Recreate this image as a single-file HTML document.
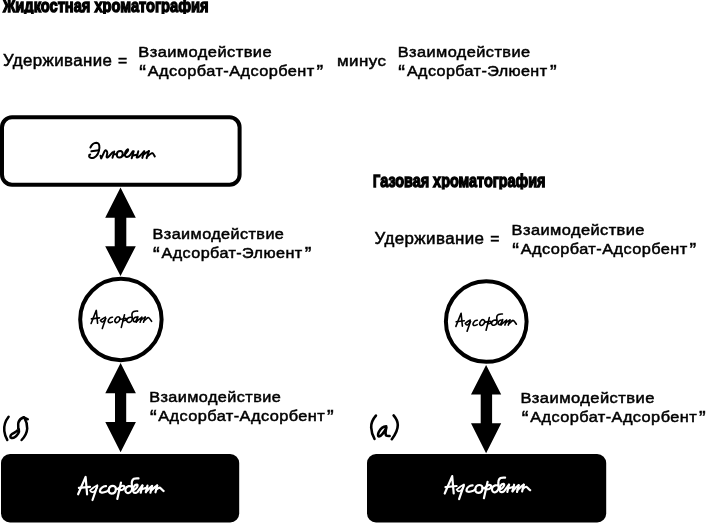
<!DOCTYPE html>
<html><head><meta charset="utf-8">
<style>
html,body{margin:0;padding:0;background:#fff;width:706px;height:523px;overflow:hidden}
svg{display:block;filter:grayscale(1)}
.t{font-family:"Liberation Sans",sans-serif;font-weight:normal;font-size:15.5px;fill:#000;stroke:#000;stroke-width:0.5px;letter-spacing:0.4px}
.h{font-family:"Liberation Sans",sans-serif;font-weight:bold;font-size:18.2px;fill:#000;stroke:#000;stroke-width:1.35px}
.s{font-family:"Liberation Serif",serif;font-style:italic;font-size:18px;fill:#000}
.sw{font-family:"Liberation Serif",serif;font-style:italic;font-size:19px;fill:#fff}
.q{font-size:20px !important}
</style></head>
<body>
<svg width="706" height="523" viewBox="0 0 706 523">
<defs><clipPath id="c1"><rect x="0" y="0" width="300" height="14"/></clipPath><clipPath id="c2"><rect x="360" y="170" width="300" height="19.6"/></clipPath>
<g id="eluent" fill="none" stroke="#000" stroke-width="2" stroke-linecap="round" stroke-linejoin="round">
<path d="M90.4,147.5 C91.5,145 93.8,142.8 96.3,142.7 C98.5,142.7 99.5,144.5 99.4,147.8 C99.2,151.5 97.5,156 93.7,157.8 C91.5,158.6 89.5,157.8 89.1,156.2 C89,155.3 89.5,154.7 90.2,154.6"/>
<path d="M91.4,151.3 L99,150.2"/>
<path d="M100.5,155.7 L101.2,158.4 C102.5,156 104,152 105,150.7 C105.8,149.9 107.2,151 107.3,153 L106.6,156.8 C106.8,158 108,157.5 108.8,156.5 L112.5,152.3"/>
<path d="M114.2,151.5 L112.5,157.7"/>
<path d="M114.4,154.3 L116.8,154.2"/>
<path d="M120.3,151 C122,151 122.9,152.5 122.7,154.2 C122.5,156.2 121,157.7 119.3,157.6 C117.5,157.5 116.6,156 116.8,154.3 C117,152.4 118.5,151 120.3,151"/>
<path d="M122.6,155.9 C124,155.2 126.5,153.2 127.8,151 C128.6,149.6 128,149 127.3,149.6 C125.8,150.8 124.8,153.5 125.1,155.5 C125.4,157.3 127.3,157.3 129,156.2 C130.5,155 131.8,153 132.8,151.3"/>
<path d="M133.7,151.2 L131.7,158.2"/>
<path d="M132.6,155.6 L137.2,154.7"/>
<path d="M138.3,151.2 L136.7,157.2 C137,157.8 137.9,157.6 138.6,157 L140.5,155.2 C141.5,154.2 142.8,152.8 143.8,151.5"/>
<path d="M144.3,151.3 L142.3,157.9"/>
<path d="M143.3,154.8 C144.8,153.5 146.8,152 148.9,151.1"/>
<path d="M148.9,151.1 L146.6,158.1"/>
<path d="M147.6,156 C148.6,155.2 150.5,153.5 152,153.1 C153,153 154,155 154.8,156.4"/>
</g>
<g id="adsorbat" fill="none" stroke="#000" stroke-width="1.6" stroke-linecap="round" stroke-linejoin="round">
<path d="M91.1,323.5 L96.3,310.4 L97.6,323.3"/>
<path d="M91.4,318.9 L99.5,317.9"/>
<path stroke-width="1.5" d="M105.5,317.1 C103.8,318 101.8,319.3 100.4,320.4 C101,321.6 102,322.3 103,321.9 C104.2,321.2 105,319.8 105.7,318.5"/>
<path d="M105.7,318.5 L102.3,328.4"/>
<path d="M112.5,317.3 C111,317.2 109.2,318.6 108.4,320.2 C107.7,321.7 108.6,322.8 110.2,322.6 C111,322.5 111.8,322.2 112.4,321.8"/>
<ellipse cx="117.4" cy="319.7" rx="2.1" ry="3.1" transform="rotate(35 117.4 319.7)"/>
<path d="M124.5,314.7 L121.3,327.4"/>
<path d="M120.1,319.2 C121,319 122,319 122.8,319 C124,318.2 126,318 126.5,319.2 C126.8,320.2 125,320.8 123,320.7"/>
<path d="M132.3,317.8 C130.5,316.5 127.5,317.5 126.8,319.8 C126.3,321.8 128,322.8 129.8,322.2 C131.6,321.5 132.6,319.5 132.2,317 C131.6,314.5 132,312.3 133.8,311.5 C135,311 136.5,311 137.6,311.1"/>
<path d="M137.2,317.3 C135.5,316.6 133.5,318 133.2,320 C133,321.8 134.8,322.2 136,321 L137.9,316.7 L136.3,322.2"/>
<path d="M137.2,321 C138.5,320 140,318.5 141.8,317.3"/>
<path d="M141.8,317.3 L140.1,322.2"/>
<path d="M140.9,320 C142.2,319 143.8,317.8 145.2,317.1"/>
<path d="M145.2,317.1 L143.5,322.2"/>
<path d="M144.6,320.5 C145.5,319.6 147,317.8 148.2,317.5 C149.5,317.6 150.5,320 151.6,321.3"/>
</g>
<g id="adsorbent" fill="none" stroke="#fff" stroke-width="2.2" stroke-linecap="round" stroke-linejoin="round">
<path d="M78.1,494.3 L85.6,476.9 L87.1,494.3"/>
<path d="M78.9,487.9 L90,486.8"/>
<path stroke-width="1.7" d="M97.3,485.2 C95,486.3 92,488.5 90,490.4 C90.8,491.8 92.2,492.5 93.5,491.9 C95,491.2 96.2,489.5 97,487.5"/>
<path d="M97.3,486 L92.5,500"/>
<path d="M106,486.2 C103,486 100.2,488.5 99.9,490.8 C99.8,492.8 102.5,493.2 106.6,491.6 C107.5,491.2 108.2,490.6 108.8,490"/>
<path d="M113,485.8 C115.2,485.8 116.2,487.8 115.9,489.6 C115.6,491.8 113.8,493.6 111.6,493.6 C109.5,493.5 108.4,491.8 108.7,489.8 C109,487.6 110.8,485.8 113,485.8"/>
<path d="M121,482.6 L117.3,499"/>
<path d="M115.8,489 C116.8,489 117.8,489 118.6,488.5 C119.8,486.5 122.5,485.2 124,486 C125,486.8 124.4,489 122.5,489.8 C121.3,490.2 119.8,490.2 118.8,489.8"/>
<path d="M132.4,487.5 C130.5,485 126.5,486 125.5,489 C124.8,491.5 126.5,493.6 128.8,493 C131,492.3 132.4,489.5 132,486.5 C131.4,483 131.8,480 133.9,478.8 C135.2,478.2 137,478.3 138.5,478.4"/>
<path d="M132.8,490.5 C134.5,490 137.2,488 137.6,485.8 C137.8,484.5 136.6,484.2 135.4,485 C133.6,486.3 132.7,489.5 133.2,491.5 C133.8,493.5 136,493.2 137.5,492 L142.4,485.5"/>
<path d="M142.4,485.5 L140.7,492.7"/>
<path d="M141.5,489.3 L147,487.6"/>
<path d="M147.5,485.5 L145.8,492.3"/>
<path d="M146,491.8 C147.5,490 150,487.5 152.1,486"/>
<path d="M152.1,486 L150.4,492.7"/>
<path d="M151,490.5 C152.8,489 155,487 157.2,485.5"/>
<path d="M157.2,485.5 L155.5,492.3"/>
<path d="M156.3,489.5 C157.5,488.5 158.8,487.4 159.8,487.6 C161,488 162.2,490.3 163.6,491"/>
</g>
</defs>
<!-- Titles -->
<text class="h" clip-path="url(#c1)" x="3" y="11.6" textLength="205.5" lengthAdjust="spacingAndGlyphs"><tspan font-size="17">Ж</tspan>идкостная хроматография</text>
<text class="h" clip-path="url(#c2)" x="373" y="187" textLength="172.5" lengthAdjust="spacingAndGlyphs"><tspan font-size="16">Г</tspan>азовая хроматография</text>

<!-- Top equation -->
<text class="t" style="font-size:16px" x="3" y="66.2" textLength="109.4" lengthAdjust="spacingAndGlyphs">Удерживание</text>
<text class="t" x="118" y="66.1" textLength="9.6" lengthAdjust="spacingAndGlyphs">=</text>
<text class="t" x="138.3" y="57.4" textLength="133.7" lengthAdjust="spacingAndGlyphs">Взаимодействие</text>
<g><text class="t q" x="139.2" y="78.9">“</text><text class="t" x="147.8" y="75.9" textLength="166.9" lengthAdjust="spacingAndGlyphs">Адсорбат-Адсорбент</text><text class="t q" x="323.5" y="78.9" text-anchor="end">”</text></g>
<text class="t" x="337" y="66" textLength="49.3" lengthAdjust="spacingAndGlyphs">минус</text>
<text class="t" x="397.8" y="57.4" textLength="132.7" lengthAdjust="spacingAndGlyphs">Взаимодействие</text>
<g><text class="t q" x="398.3" y="78.9">“</text><text class="t" x="406.9" y="75.9" textLength="140.6" lengthAdjust="spacingAndGlyphs">Адсорбат-Элюент</text><text class="t q" x="557.0" y="78.9" text-anchor="end">”</text></g>

<!-- Eluent box -->
<rect x="2" y="117.3" width="237.6" height="67.4" rx="10" ry="10" fill="#fff" stroke="#000" stroke-width="4"/>
<use href="#eluent"/>

<!-- Arrow 1 -->
<polygon fill="#000" points="120.5,187.6 135.8,217.7 126.3,217.7 126.3,246.2 135.8,246.2 120.5,275.9 105.2,246.2 114.7,246.2 114.7,217.7 105.2,217.7"/>
<text class="t" x="152.6" y="238.5" textLength="131.7" lengthAdjust="spacingAndGlyphs">Взаимодействие</text>
<g><text class="t q" x="153.1" y="260.8">“</text><text class="t" x="161.5" y="257.8" textLength="141.1" lengthAdjust="spacingAndGlyphs">Адсорбат-Элюент</text><text class="t q" x="311.8" y="260.8" text-anchor="end">”</text></g>

<!-- Circle 1 -->
<circle cx="120.9" cy="319.5" r="40.7" fill="#fff" stroke="#000" stroke-width="4"/>
<use href="#adsorbat"/>

<!-- Arrow 2 -->
<polygon fill="#000" points="120.6,363 135.9,393.3 126.2,393.3 126.2,422 135.9,422 120.6,452.3 105.3,422 115,422 115,393.3 105.3,393.3"/>
<text class="t" x="149.2" y="401.8" textLength="132.0" lengthAdjust="spacingAndGlyphs">Взаимодействие</text>
<g><text class="t q" x="150.0" y="423.5">“</text><text class="t" x="158.2" y="420.5" textLength="167.0" lengthAdjust="spacingAndGlyphs">Адсорбат-Адсорбент</text><text class="t q" x="334.0" y="423.5" text-anchor="end">”</text></g>

<!-- (б) -->
<g fill="none" stroke="#000" stroke-width="2.5" stroke-linecap="round" stroke-linejoin="round">
<path d="M8.6,416.8 C5,421.5 3.8,427 4.3,431 C4.8,435 6,438 7.3,440"/>
<path d="M23.8,417.3 C21,418.3 19.2,420 18.4,422.5 C17.8,425 18.6,427.5 18.2,429.3 C17.5,431.3 14.5,432.5 12,434 C10,435.3 9.8,437.5 11.5,438 C13.5,438.5 16.5,436 18.2,433.5 C19,432.2 19.2,430.5 18.8,429"/>
<path d="M23.8,417.3 L27.8,419.3"/>
<path d="M24.5,418.2 C26.5,421.5 27.3,425 27.2,428.5 C27,432.5 24.5,437 21.6,440"/>
</g>
<!-- Black box 1 -->
<rect x="1" y="454" width="238.2" height="68.5" rx="9" ry="9" fill="#000"/>
<use href="#adsorbent"/>

<!-- Right: Gas -->
<text class="t" style="font-size:16px" x="374.6" y="243.6" textLength="109.8" lengthAdjust="spacingAndGlyphs">Удерживание</text>
<text class="t" x="490.3" y="243.5" textLength="9.6" lengthAdjust="spacingAndGlyphs">=</text>
<text class="t" x="511.6" y="234.8" textLength="133.3" lengthAdjust="spacingAndGlyphs">Взаимодействие</text>
<g><text class="t q" x="512.2" y="257.4">“</text><text class="t" x="520.8" y="254.4" textLength="166.8" lengthAdjust="spacingAndGlyphs">Адсорбат-Адсорбент</text><text class="t q" x="696.5" y="257.4" text-anchor="end">”</text></g>

<circle cx="486.25" cy="321.5" r="40.35" fill="#fff" stroke="#000" stroke-width="4"/>
<use href="#adsorbat" transform="translate(364.8,2.9)"/>

<polygon fill="#000" points="486.1,365 501.2,394.5 492.1,394.5 492.1,423.2 501.2,423.2 486.1,453.3 471,423.2 480.7,423.2 480.7,394.5 471,394.5"/>
<text class="t" x="520.4" y="403.4" textLength="134.4" lengthAdjust="spacingAndGlyphs">Взаимодействие</text>
<g><text class="t q" x="521.8" y="425.2">“</text><text class="t" x="530.2" y="422.2" textLength="166.9" lengthAdjust="spacingAndGlyphs">Адсорбат-Адсорбент</text><text class="t q" x="706.0" y="425.2" text-anchor="end">”</text></g>

<!-- (а) -->
<g fill="none" stroke="#000" stroke-width="2.6" stroke-linecap="round" stroke-linejoin="round">
<path d="M375.9,415.6 C372.5,419.5 371,423.5 371.2,427.5 C371.4,432 372.8,436 374.5,438.8"/>
<path d="M386.2,426.3 C383.5,426.5 380.3,429 378.8,432 C377.8,434 377.8,436.5 379,436.5 C381,436.5 384.5,432 386.4,427.5 C385.6,430.5 385.2,434 386.2,435.5 C387.2,436.2 388.5,436.1 389.6,436"/>
<path d="M393.6,415.4 C396.2,418.5 397.8,421.5 397.8,425 C397.8,429.5 395,435 391.8,439.2"/>
</g>
<rect x="367" y="454" width="239.2" height="68.5" rx="9" ry="9" fill="#000"/>
<use href="#adsorbent" transform="translate(366.6,-0.8)"/>
</svg>
</body></html>
